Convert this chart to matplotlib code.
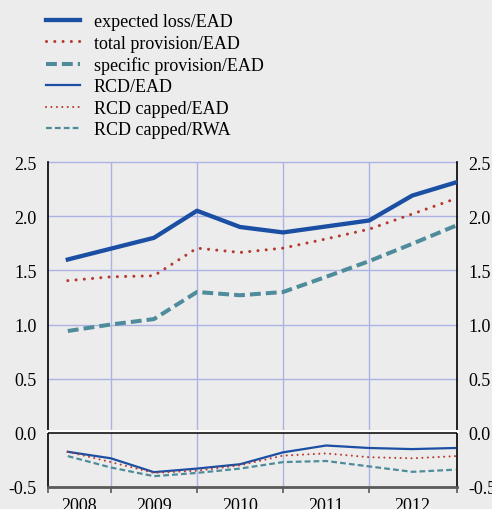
import matplotlib
matplotlib.use('Agg')
import matplotlib.pyplot as plt

plt.rcParams['font.family'] = ['Liberation Serif', 'DejaVu Serif']
plt.rcParams['font.size'] = 13

# half-year points, 2008H2 .. 2012H2 (year-end = integer)
x = [2008.5, 2009.0, 2009.5, 2010.0, 2010.5, 2011.0, 2011.5, 2012.0, 2012.5, 2013.0]

el_ead = [1.60, 1.70, 1.80, 2.05, 1.90, 1.85, 1.905, 1.96, 2.19, 2.31]
tot_prov_ead = [1.405, 1.44, 1.45, 1.705, 1.665, 1.705, 1.79, 1.88, 2.02, 2.16]
spec_prov_ead = [0.94, 1.00, 1.05, 1.30, 1.27, 1.30, 1.44, 1.585, 1.745, 1.91]
rcd_ead = [-0.175, -0.235, -0.363, -0.33, -0.29, -0.18, -0.117, -0.14, -0.15, -0.14]
rcd_cap_ead = [-0.175, -0.27, -0.37, -0.35, -0.30, -0.21, -0.19, -0.225, -0.235, -0.215]
rcd_cap_rwa = [-0.215, -0.32, -0.40, -0.37, -0.33, -0.27, -0.26, -0.31, -0.36, -0.34]

years = ['2008', '2009', '2010', '2011', '2012']
year_bounds = [2009, 2010, 2011, 2012]
yticks = [-0.5, 0.0, 0.5, 1.0, 1.5, 2.0, 2.5]
ytick_labels = ['-0.5', '0.0', '0.5', '1.0', '1.5', '2.0', '2.5']

blue = '#1a4fa3'
red = '#b5392e'
teal = '#4e8c9b'
grid = '#aab3e2'
bg = '#ececec'

xmin, xmax = 2008.27, 2013.02

fig = plt.figure(figsize=(4.92, 5.10), dpi=100, facecolor=bg)
ax = fig.add_axes([48/492, 1 - 488/510, (457-48)/492, (488-163)/510])
ax.set_facecolor(bg)
ax.set_xlim(xmin, xmax)
ax.set_ylim(-0.5, 2.5)

# grid
for yv in [0.5, 1.0, 1.5, 2.0, 2.5]:
    ax.axhline(yv, color=grid, lw=1.0, zorder=1, clip_on=False)
for xv in year_bounds:
    ax.axvline(xv, color=grid, lw=1.0, zorder=1)

# upper series
l1, = ax.plot(x, el_ead, color=blue, lw=3.1, zorder=4)
l2, = ax.plot(x, tot_prov_ead, color=red, lw=2.2, ls=(0, (0.01, 2.7)),
              dash_capstyle='round', zorder=4)
l3, = ax.plot(x, spec_prov_ead, color=teal, lw=2.9, ls=(0, (2.7, 1.25)), zorder=4)
# lower series
l4, = ax.plot(x, rcd_ead, color=blue, lw=1.6, zorder=4)
l5, = ax.plot(x, rcd_cap_ead, color=red, lw=1.5, ls=(0, (0.01, 2.6)),
              dash_capstyle='round', zorder=4)
l6, = ax.plot(x, rcd_cap_rwa, color=teal, lw=1.6, ls=(0, (2.6, 1.4)), zorder=4)

# break at zero
ax.axhline(0.018, color='white', lw=2.2, zorder=5, clip_on=False)
ax.axhline(0.0, color='black', lw=1.1, zorder=5)

# spines
for s in ['left', 'right']:
    ax.spines[s].set_color('black')
    ax.spines[s].set_linewidth(1.2)
ax.spines['top'].set_visible(False)
ax.spines['bottom'].set_color('#5a5a5a')
ax.spines['bottom'].set_linewidth(2.0)

ax.set_yticks(yticks)
ax.set_yticklabels(ytick_labels)
ax.tick_params(axis='y', length=0, left=True, right=True, labelleft=True,
               labelright=True, pad=8)

ax.set_xticks([xmin] + year_bounds + [xmax])
ax.set_xticklabels([])
ax.tick_params(axis='x', which='major', direction='out', length=4, width=1.2,
               color='#5a5a5a')
label_pos = [(xmin + 2009) / 2, 2009.5, 2010.5, 2011.5, 2012.5]
ax.set_xticks(label_pos, minor=True)
ax.set_xticklabels(years, minor=True)
ax.tick_params(axis='x', which='minor', length=0, pad=7)

handles = [l1, l2, l3, l4, l5, l6]
labels = ['expected loss/EAD', 'total provision/EAD', 'specific provision/EAD',
          'RCD/EAD', 'RCD capped/EAD', 'RCD capped/RWA']
fig.legend(handles, labels, loc='upper left', bbox_to_anchor=(46/492, 1 - 14/510),
           frameon=False, borderpad=0, borderaxespad=0, handlelength=1.9,
           handletextpad=0.75, labelspacing=0.25)

fig.savefig('out.png', dpi=100, facecolor=bg)
